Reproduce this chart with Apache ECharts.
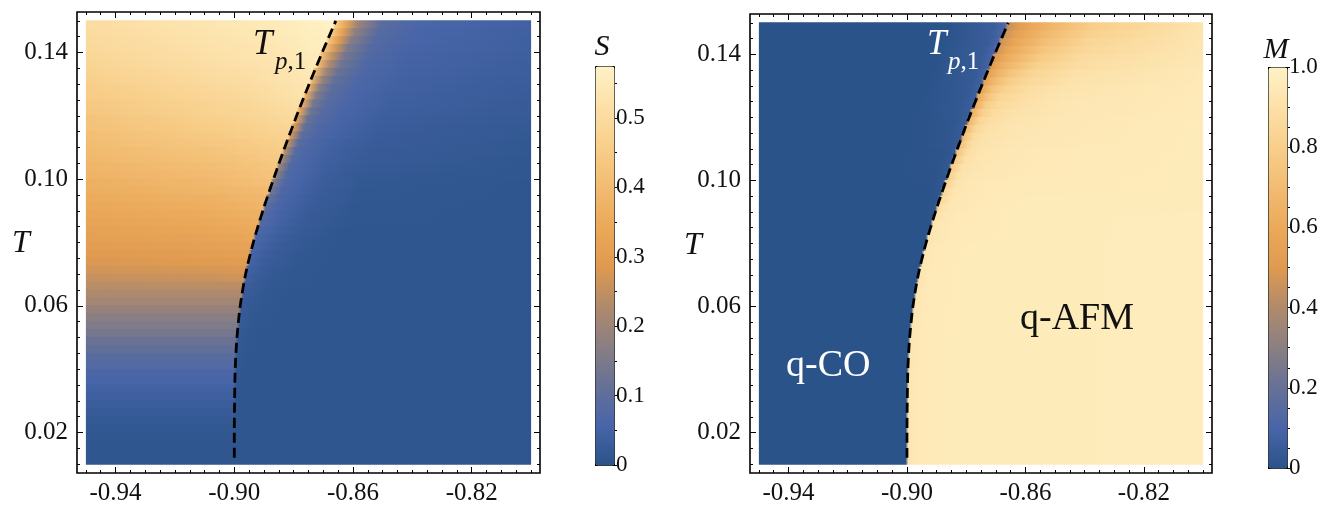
<!DOCTYPE html>
<html>
<head>
<meta charset="utf-8">
<script src="https://cdn.jsdelivr.net/npm/echarts@6/dist/echarts.min.js"></script>
<style>
  html, body { margin: 0; padding: 0; background: #fff; }
  #main { width: 1330px; height: 506px; }
</style>
</head>
<body>
<div id="main"></div>
<script>
// 相图：左 S，右 M（按温度分行的密度图 + 相变线 T_p,1）

// 每一行的温度（行中心，步长 0.0025，自上而下）
var rowT = [0.14875, 0.14625, 0.14375, 0.14125, 0.13875, 0.13625, 0.13375, 0.13125, 0.12875, 0.12625,
  0.12375, 0.12125, 0.11875, 0.11625, 0.11375, 0.11125, 0.10875, 0.10625, 0.10375, 0.10125,
  0.09875, 0.09625, 0.09375, 0.09125, 0.08875, 0.08625, 0.08375, 0.08125, 0.07875, 0.07625,
  0.07375, 0.07125, 0.06875, 0.06625, 0.06375, 0.06125, 0.05875, 0.05625, 0.05375, 0.05125,
  0.04875, 0.04625, 0.04375, 0.04125, 0.03875, 0.03625, 0.03375, 0.03125, 0.02875, 0.02625,
  0.02375, 0.02125, 0.01875, 0.01625, 0.01375, 0.01125];
// 每一行相变边界的位置（读自虚线）
var rowEdge = [-0.8664, -0.8675, -0.8687, -0.8698, -0.8710, -0.8720, -0.8732, -0.8743, -0.8753, -0.8764,
  -0.8774, -0.8785, -0.8795, -0.8805, -0.8815, -0.8825, -0.8835, -0.8844, -0.8854, -0.8863,
  -0.8873, -0.8882, -0.8891, -0.8900, -0.8908, -0.8916, -0.8924, -0.8932, -0.8939, -0.8946,
  -0.8952, -0.8959, -0.8964, -0.8969, -0.8973, -0.8978, -0.8981, -0.8984, -0.8987, -0.8990,
  -0.8992, -0.8993, -0.8995, -0.8996, -0.8997, -0.8998, -0.8998, -0.8999, -0.8999, -0.9000,
  -0.9000, -0.9000, -0.9000, -0.9000, -0.9000, -0.9000];
// 取样点：相对边界的偏移（null = 图的左/右边缘）
var sampleOff = [null, -0.02, -0.004, -0.0004, 0.0004, 0.004, 0.008, 0.016, 0.03, null];

// S 的取样值
var sRows = [
  [.505,.55,.57,.575,.45,.33,.2,.09,.06,.045],
  [.5,.545,.565,.57,.44,.31,.18,.085,.058,.043],
  [.495,.54,.56,.565,.43,.29,.165,.08,.056,.041],
  [.49,.535,.555,.56,.42,.27,.15,.078,.054,.04],
  [.485,.53,.55,.555,.41,.25,.14,.075,.052,.038],
  [.48,.525,.545,.55,.4,.23,.13,.072,.05,.036],
  [.47,.515,.54,.545,.39,.21,.12,.07,.048,.034],
  [.465,.51,.535,.54,.38,.19,.11,.068,.046,.032],
  [.455,.5,.525,.53,.37,.17,.1,.065,.044,.03],
  [.45,.495,.52,.525,.36,.155,.095,.062,.042,.028],
  [.44,.485,.51,.515,.35,.14,.09,.06,.04,.026],
  [.435,.48,.5,.505,.34,.13,.085,.058,.038,.024],
  [.425,.47,.49,.495,.32,.12,.08,.055,.035,.022],
  [.42,.46,.48,.485,.3,.11,.075,.052,.032,.02],
  [.41,.45,.47,.475,.28,.1,.072,.05,.03,.018],
  [.405,.44,.46,.465,.26,.09,.068,.044,.028,.016],
  [.395,.43,.45,.455,.24,.085,.066,.042,.026,.015],
  [.39,.42,.44,.445,.22,.08,.064,.04,.024,.014],
  [.38,.41,.43,.435,.2,.078,.062,.038,.022,.013],
  [.375,.4,.42,.425,.18,.075,.06,.036,.02,.012],
  [.365,.39,.41,.415,.16,.072,.058,.034,.018,.011],
  [.36,.38,.395,.4,.14,.07,.055,.032,.016,.01],
  [.35,.37,.385,.39,.12,.068,.052,.03,.015,.01],
  [.34,.36,.375,.38,.1,.065,.05,.028,.014,.01],
  [.335,.35,.365,.37,.09,.062,.047,.026,.013,.01],
  [.325,.34,.355,.36,.08,.06,.044,.024,.012,.01],
  [.318,.33,.345,.35,.07,.055,.04,.022,.011,.01],
  [.31,.32,.335,.34,.065,.05,.036,.02,.01,.01],
  [.3,.31,.32,.325,.06,.045,.032,.018,.01,.01],
  [.29,.3,.31,.312,.055,.04,.028,.016,.01,.01],
  [.28,.29,.295,.298,.05,.036,.025,.015,.01,.01],
  [.27,.275,.28,.282,.045,.032,.022,.014,.01,.01],
  [.255,.26,.265,.265,.04,.028,.02,.013,.01,.01],
  [.24,.243,.245,.245,.036,.025,.018,.012,.01,.01],
  [.225,.226,.227,.227,.033,.022,.016,.011,.01,.01],
  [.21,.21,.21,.21,.03,.02,.015,.01,.01,.01],
  [.19,.19,.19,.19,.028,.018,.014,.01,.01,.01],
  [.17,.17,.17,.17,.026,.016,.013,.01,.01,.01],
  [.155,.155,.155,.155,.024,.015,.012,.01,.01,.01],
  [.14,.14,.14,.14,.022,.014,.011,.01,.01,.01],
  [.12,.12,.12,.12,.02,.013,.01,.01,.01,.01],
  [.105,.105,.105,.105,.018,.012,.01,.01,.01,.01],
  [.09,.09,.09,.09,.016,.011,.01,.01,.01,.01],
  [.08,.08,.08,.08,.015,.01,.01,.01,.01,.01],
  [.068,.068,.068,.068,.014,.01,.01,.01,.01,.01],
  [.058,.058,.058,.058,.013,.01,.01,.01,.01,.01],
  [.048,.048,.048,.048,.012,.01,.01,.01,.01,.01],
  [.04,.04,.04,.04,.011,.01,.01,.01,.01,.01],
  [.032,.032,.032,.032,.01,.01,.01,.01,.01,.01],
  [.025,.025,.025,.025,.01,.01,.01,.01,.01,.01],
  [.02,.02,.02,.02,.01,.01,.01,.01,.01,.01],
  [.015,.015,.015,.015,.01,.01,.01,.01,.01,.01],
  [.012,.012,.012,.012,.01,.01,.01,.01,.01,.01],
  [.01,.01,.01,.01,.01,.01,.01,.01,.01,.01],
  [.01,.01,.01,.01,.01,.01,.01,.01,.01,.01],
  [.01,.01,.01,.01,.01,.01,.01,.01,.01,.01]
];

// M 的取样值
var mRows = [
  [0,0,.06,.12,.44,.52,.58,.68,.8,.92],
  [0,0,.055,.11,.45,.54,.6,.7,.82,.925],
  [0,0,.05,.1,.46,.56,.62,.72,.84,.93],
  [0,0,.05,.095,.47,.58,.64,.75,.85,.935],
  [0,0,.045,.09,.49,.6,.67,.78,.87,.94],
  [0,0,.04,.085,.51,.63,.7,.81,.88,.945],
  [0,0,.04,.08,.53,.66,.74,.84,.9,.95],
  [0,0,.035,.075,.55,.69,.78,.86,.91,.95],
  [0,0,.035,.07,.57,.73,.82,.88,.92,.955],
  [0,0,.03,.065,.59,.76,.84,.89,.93,.955],
  [0,0,.03,.06,.61,.79,.86,.9,.935,.955],
  [0,0,.025,.055,.63,.81,.875,.91,.935,.955],
  [0,0,.02,.05,.66,.84,.89,.92,.94,.96],
  [0,0,.02,.045,.68,.86,.9,.925,.94,.96],
  [0,0,.015,.04,.7,.87,.91,.93,.945,.96],
  [0,0,.015,.035,.72,.88,.915,.935,.945,.96],
  [0,0,.01,.03,.74,.89,.92,.94,.95,.96],
  [0,0,.01,.03,.76,.9,.925,.94,.95,.96],
  [0,0,.01,.025,.78,.91,.93,.945,.95,.96],
  [0,0,.005,.02,.8,.915,.935,.945,.955,.96],
  [0,0,.005,.02,.82,.92,.94,.95,.955,.96],
  [0,0,0,.015,.84,.925,.94,.95,.955,.96],
  [0,0,0,.01,.86,.93,.945,.95,.96,.96],
  [0,0,0,.01,.88,.935,.945,.955,.96,.96],
  [0,0,0,.005,.9,.94,.95,.955,.96,.965],
  [0,0,0,0,.92,.945,.95,.955,.96,.965],
  [0,0,0,0,.92,.945,.95,.955,.96,.965],
  [0,0,0,0,.92,.945,.95,.955,.96,.965],
  [0,0,0,0,.93,.95,.955,.96,.96,.965],
  [0,0,0,0,.93,.95,.955,.96,.96,.965],
  [0,0,0,0,.93,.95,.955,.96,.96,.965],
  [0,0,0,0,.93,.95,.955,.96,.96,.965],
  [0,0,0,0,.93,.95,.955,.96,.96,.965],
  [0,0,0,0,.93,.95,.955,.96,.96,.965],
  [0,0,0,0,.93,.95,.955,.96,.96,.965],
  [0,0,0,0,.93,.95,.955,.96,.96,.965],
  [0,0,0,0,.93,.95,.955,.96,.96,.965],
  [0,0,0,0,.93,.95,.955,.96,.96,.965],
  [0,0,0,0,.93,.95,.955,.96,.96,.965],
  [0,0,0,0,.93,.95,.955,.96,.96,.965],
  [0,0,0,0,.93,.95,.955,.96,.96,.965],
  [0,0,0,0,.93,.95,.955,.96,.96,.965],
  [0,0,0,0,.93,.95,.955,.96,.96,.965],
  [0,0,0,0,.93,.95,.955,.96,.96,.965],
  [0,0,0,0,.93,.95,.955,.96,.96,.965],
  [0,0,0,0,.93,.95,.955,.96,.96,.965],
  [0,0,0,0,.93,.95,.955,.96,.96,.965],
  [0,0,0,0,.93,.95,.955,.96,.96,.965],
  [0,0,0,0,.93,.95,.955,.96,.96,.965],
  [0,0,0,0,.93,.95,.955,.96,.96,.965],
  [0,0,0,0,.93,.95,.955,.96,.96,.965],
  [0,0,0,0,.93,.95,.955,.96,.96,.965],
  [0,0,0,0,.93,.95,.955,.96,.96,.965],
  [0,0,0,0,.93,.95,.955,.96,.96,.965],
  [0,0,0,0,.93,.95,.955,.96,.96,.965],
  [0,0,0,0,.93,.95,.955,.96,.96,.965]
];

// 相变线 T_p,1
var lineT = [0.012, 0.02, 0.03, 0.04, 0.05, 0.06, 0.07, 0.08, 0.09, 0.10, 0.11, 0.12, 0.13, 0.14, 0.15];
var lineX = [-0.9000, -0.9000, -0.8999, -0.8997, -0.8991, -0.8980, -0.8962, -0.8936, -0.8904, -0.8868, -0.8830, -0.8790, -0.8748, -0.8704, -0.8658];

// 刻度
var xTicks = [-0.94, -0.90, -0.86, -0.82];
var yTicks = [0.02, 0.06, 0.10, 0.14];
var sBarTicks = [0, 0.1, 0.2, 0.3, 0.4, 0.5];
var mBarTicks = [0, 0.2, 0.4, 0.6, 0.8, 1.0];
var sMax = 0.575;

var colors = ['#2a5389', '#4865a9', '#667196', '#8a7f82', '#b08a6c', '#df9a50',
  '#eba95a', '#f2bc72', '#f8cf8a', '#fce0a8', '#fff2c6'];

var fontFam = '"Liberation Serif", "DejaVu Serif", serif';

// 数据区和外框范围（外框比数据区多出 2%）
var dataX = [-0.95, -0.80];
var xr = [-0.953, -0.797];
var yr = [0.0072, 0.1528];
var halfRow = 0.00125;

var minorX = [], minorY = [], sMinor = [], mMinor = [];
for (var i = 0; i <= 30; i++) minorX.push(+(-0.95 + i * 0.005).toFixed(3));
for (var i = 0; i <= 28; i++) minorY.push(+(0.01 + i * 0.005).toFixed(3));
for (var i = 0; i <= 11; i++) sMinor.push(+(i * 0.05).toFixed(2));
for (var i = 0; i <= 20; i++) mMinor.push(+(i * 0.05).toFixed(2));

var frameS = {left: 77, top: 12, width: 463, height: 461};
var frameM = {left: 750, top: 14, width: 462, height: 462};
var barS = {left: 595, top: 66, width: 19, height: 399};
var barM = {left: 1268, top: 67, width: 19, height: 401};

function tickAxis(type, gi, pos, range, ticks, len, withLabel) {
  var a = {
    type: 'value', gridIndex: gi, position: pos, min: range[0], max: range[1],
    axisLine: {show: false}, splitLine: {show: false},
    axisTick: {show: true, inside: true, length: len, customValues: ticks, lineStyle: {color: '#000', width: 1}},
    axisLabel: {show: false}
  };
  if (withLabel) {
    a.axisLabel = {
      show: true, customValues: ticks, margin: type === 'x' ? 8 : 9,
      color: '#111', fontSize: 25, fontFamily: fontFam,
      formatter: function (v) { return v.toFixed(2); }
    };
  }
  return a;
}

function frameX(gi) {
  return [tickAxis('x', gi, 'bottom', xr, xTicks, 6, true), tickAxis('x', gi, 'bottom', xr, minorX, 3, false),
    tickAxis('x', gi, 'top', xr, xTicks, 6, false), tickAxis('x', gi, 'top', xr, minorX, 3, false)];
}
function frameY(gi) {
  return [tickAxis('y', gi, 'left', yr, yTicks, 6, true), tickAxis('y', gi, 'left', yr, minorY, 3, false),
    tickAxis('y', gi, 'right', yr, yTicks, 6, false), tickAxis('y', gi, 'right', yr, minorY, 3, false)];
}

function barAxis(gi, max, ticks, len, withLabel) {
  return {
    type: 'value', gridIndex: gi, position: 'right', min: 0, max: max,
    axisLine: {show: false}, splitLine: {show: false},
    axisTick: {show: true, inside: false, length: len, customValues: ticks, lineStyle: {color: '#000', width: 1}},
    axisLabel: withLabel ? {
      show: true, customValues: ticks, margin: 2, color: '#111', fontSize: 23, fontFamily: fontFam,
      formatter: function (v) { return v === 0 ? '0' : v.toFixed(1); }
    } : {show: false}
  };
}

function grid(g, border) {
  return {left: g.left, top: g.top, width: g.width, height: g.height, show: border,
    borderColor: '#000', borderWidth: 1.6, backgroundColor: 'transparent', containLabel: false};
}

// 每行画成一条横带，颜色按取样值渐变
function stripRenderer(rows, maxV) {
  return function (params, api) {
    var i = params.dataIndex;
    var t = rowT[i], edge = rowEdge[i], vals = rows[i];
    var p0 = api.coord([dataX[0], t + halfRow]);
    var p1 = api.coord([dataX[1], t - halfRow]);
    var span = dataX[1] - dataX[0];
    var stops = vals.map(function (v, j) {
      var x = sampleOff[j] === null ? dataX[j === 0 ? 0 : 1] : edge + sampleOff[j];
      return {offset: (x - dataX[0]) / span, color: echarts.color.lerp(Math.min(v / maxV, 1), colors)};
    });
    return {
      type: 'rect',
      shape: {x: p0[0], y: p0[1] - 0.5, width: p1[0] - p0[0], height: p1[1] - p0[1] + 1},
      style: {fill: {type: 'linear', x: 0, y: 0, x2: 1, y2: 0, colorStops: stops}}
    };
  };
}

var rowData = rowT.map(function (t, i) { return [rowEdge[i], t]; });
var lineData = lineT.map(function (t, i) { return [lineX[i], t]; });

var myChart = echarts.init(document.getElementById('main'));

var option = {
  animation: false,
  backgroundColor: '#fff',
  grid: [grid(frameS, true), grid(frameM, true), grid(barS, false), grid(barM, false)],
  xAxis: [].concat(frameX(0), frameX(1),
    [{type: 'value', gridIndex: 2, show: false}, {type: 'value', gridIndex: 3, show: false}]),
  yAxis: [].concat(frameY(0), frameY(1),
    [barAxis(2, sMax, sBarTicks, 4, true), barAxis(3, 1, mBarTicks, 4, true),
      barAxis(2, sMax, sMinor, 3, false), barAxis(3, 1, mMinor, 3, false)]),
  visualMap: [{
    type: 'continuous', seriesIndex: 0, dimension: 1, min: 0, max: sMax, calculable: false, realtime: false,
    left: barS.left, top: barS.top, itemWidth: barS.width, itemHeight: barS.height,
    padding: 0, borderColor: '#000', borderWidth: 1, text: null,
    inRange: {color: colors}
  }, {
    type: 'continuous', seriesIndex: 2, dimension: 1, min: 0, max: 1, calculable: false, realtime: false,
    left: barM.left, top: barM.top, itemWidth: barM.width, itemHeight: barM.height,
    padding: 0, borderColor: '#000', borderWidth: 1, text: null,
    inRange: {color: colors}
  }],
  series: [{
    name: 'S', type: 'custom', xAxisIndex: 0, yAxisIndex: 0, silent: true,
    data: rowData, renderItem: stripRenderer(sRows, sMax)
  }, {
    name: 'Tp1', type: 'line', xAxisIndex: 0, yAxisIndex: 0, z: 5, silent: true,
    data: lineData, smooth: 0.3, symbol: 'none',
    lineStyle: {color: '#000', width: 2.8, type: [10, 5]}
  }, {
    name: 'M', type: 'custom', xAxisIndex: 4, yAxisIndex: 4, silent: true,
    data: rowData, renderItem: stripRenderer(mRows, 1)
  }, {
    name: 'Tp1', type: 'line', xAxisIndex: 4, yAxisIndex: 4, z: 5, silent: true,
    data: lineData, smooth: 0.3, symbol: 'none',
    lineStyle: {color: '#000', width: 2.8, type: [10, 5]}
  }],
  graphic: [
    {type: 'text', x: 21, y: 244, style: {text: 'T', font: 'italic 32px ' + fontFam, fill: '#111', textAlign: 'center', textVerticalAlign: 'middle'}},
    {type: 'text', x: 693, y: 246, style: {text: 'T', font: 'italic 32px ' + fontFam, fill: '#111', textAlign: 'center', textVerticalAlign: 'middle'}},
    {type: 'text', x: 602, y: 47, style: {text: 'S', font: 'italic 30px ' + fontFam, fill: '#111', textAlign: 'center', textVerticalAlign: 'middle'}},
    {type: 'text', x: 1276, y: 50, style: {text: 'M', font: 'italic 30px ' + fontFam, fill: '#111', textAlign: 'center', textVerticalAlign: 'middle'}},
    {type: 'text', x: 253, y: 45, z: 10, style: {text: 'T', font: 'italic 35px ' + fontFam, fill: '#111', textAlign: 'left', textVerticalAlign: 'middle'}},
    {type: 'text', x: 275, y: 62, z: 10, style: {text: '{p|p}{n|,1}', fill: '#111', textAlign: 'left', textVerticalAlign: 'middle',
      rich: {p: {fontStyle: 'italic', fontSize: 25, fontFamily: fontFam, fill: '#111'}, n: {fontSize: 25, fontFamily: fontFam, fill: '#111'}}}},
    {type: 'text', x: 927, y: 45, z: 10, style: {text: 'T', font: 'italic 35px ' + fontFam, fill: '#fff', textAlign: 'left', textVerticalAlign: 'middle'}},
    {type: 'text', x: 948, y: 62, z: 10, style: {text: '{p|p}{n|,1}', fill: '#fff', textAlign: 'left', textVerticalAlign: 'middle',
      rich: {p: {fontStyle: 'italic', fontSize: 25, fontFamily: fontFam, fill: '#fff'}, n: {fontSize: 25, fontFamily: fontFam, fill: '#fff'}}}},
    {type: 'text', x: 786, y: 366, z: 10, style: {text: 'q-CO', font: '38px ' + fontFam, fill: '#fff', textAlign: 'left', textVerticalAlign: 'middle'}},
    {type: 'text', x: 1020, y: 319, z: 10, style: {text: 'q-AFM', font: '38px ' + fontFam, fill: '#111', textAlign: 'left', textVerticalAlign: 'middle'}}
  ]
};

myChart.setOption(option);
</script>
</body>
</html>
